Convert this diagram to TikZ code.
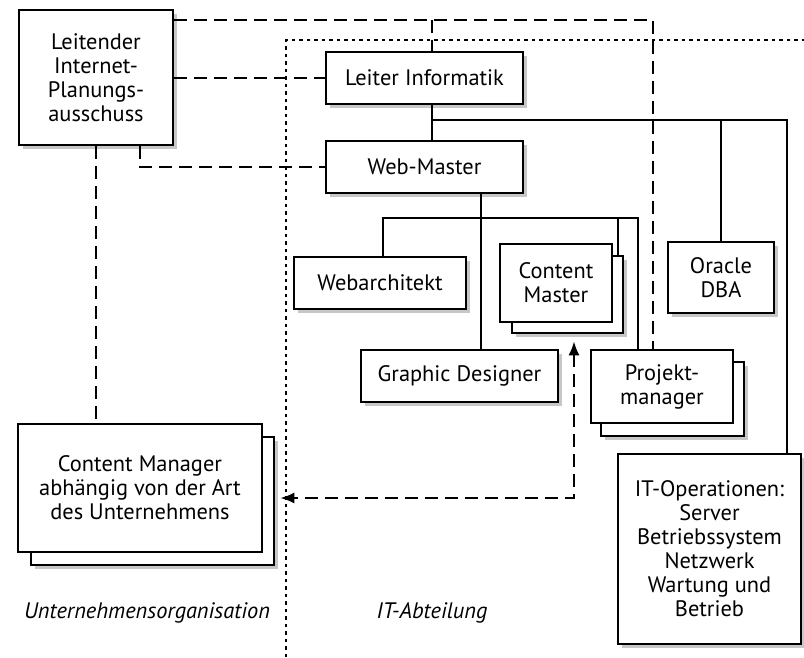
\documentclass[tikz,border=0pt]{standalone}
\usepackage{fontspec}
\setmainfont{PT Sans}
\usetikzlibrary{arrows.meta, positioning, shadows}

\begin{document}
\begin{tikzpicture}[
    x=1pt, y=-1pt,
    every node/.style={font=\fontsize{22.4}{24}\selectfont},
    role/.style={rectangle, draw, line width=2.6pt, fill=white, align=center,
                 inner sep=0pt,
                 drop shadow={shadow xshift=4pt, shadow yshift=-4pt,
                              opacity=1, fill=black!22}},
    rolefront/.style={rectangle, draw, line width=2.6pt, fill=white,
                      align=center, inner sep=0pt},
    orgline/.style={line width=2.1pt},
    advline/.style={line width=2.1pt, dash pattern=on 13pt off 7pt},
    boundary/.style={line width=2.1pt, dash pattern=on 3.5pt off 4pt},
    arr/.style={advline, {Latex[length=14pt,width=11pt]}-{Latex[length=14pt,width=11pt]}},
    area/.style={font=\fontsize{22.4}{24}\selectfont\itshape},
]
  \useasboundingbox (0,0) rectangle (804,657);

  % area boundary of the IT department
  \draw[boundary] (286,657) -- (286,40) -- (804,40);

  \node[role, minimum width=154pt, minimum height=135pt] (leit) at (96,77.5)
       {Leitender\\Internet-\\Planungs-\\ausschuss};
  \node[role, minimum width=197pt, minimum height=52pt]  (info) at (424.5,78) {Leiter Informatik};
  \node[role, minimum width=197pt, minimum height=52pt]  (webm) at (424.5,167) {Web-Master};
  \node[role, minimum width=172pt, minimum height=52pt]  (arch) at (380,283) {Webarchitekt};
  \node[role, minimum width=111pt, minimum height=77pt]  (cmback) at (567.5,294.5) {};
  \node[rolefront, minimum width=112pt, minimum height=78pt] (cmaster) at (556,283) {Content\\Master};
  \node[role, minimum width=197pt, minimum height=52pt]  (graph) at (459.5,376) {Graphic Designer};
  \node[role, minimum width=143pt, minimum height=74pt]  (projback) at (672.5,399) {};
  \node[rolefront, minimum width=142pt, minimum height=73pt] (proj) at (662,386.5) {Projekt-\\manager};
  \node[role, minimum width=106pt, minimum height=71pt]  (oracle) at (721,277.5) {Oracle\\DBA};
  \node[role, minimum width=183pt, minimum height=190pt] (itops) at (709.5,549)
       {IT-Operationen:\\Server\\Betriebssystem\\Netzwerk\\Wartung und\\Betrieb};
  \node[role, minimum width=243pt, minimum height=128pt] (cmanback) at (152.5,501) {};
  \node[rolefront, minimum width=244pt, minimum height=128pt] (cman) at (140,488)
       {Content Manager\\abhängig von der Art\\des Unternehmens};

  \node[area] (orglabel) at (147,613) {Unternehmensorganisation};
  \node[area] (itlabel)  at (432,613) {IT-Abteilung};

  % reporting lines
  \coordinate (itbus)  at ([xshift=7.5pt,yshift=-15pt]info.south);
  \coordinate (webbus) at ([xshift=56.5pt,yshift=-24pt]webm.south);
  \draw[orgline] ([xshift=7.5pt]info.south) -- ([xshift=7.5pt]webm.north);
  \draw[orgline] ([xshift=7.5pt]info.south) -- (itbus) -| ([xshift=77.5pt]itops.north);
  \draw[orgline] (itbus -| oracle.north) -- (oracle.north);
  \draw[orgline] ([xshift=56.5pt]webm.south) -- (webbus |- graph.north);
  \draw[orgline] ([xshift=3pt]arch.north) |- ([xshift=-24pt]webbus -| proj.north)
                 -- ([xshift=-24pt]proj.north);
  \draw[orgline] ([xshift=50.5pt]webbus -| cmback.north) -- ([xshift=50.5pt]cmback.north);

  % advisory lines of the steering committee
  \coordinate (leitbus) at ([yshift=-11pt]leit.north east);
  \draw[advline] (leitbus) -| ([xshift=-9pt]proj.north);
  \draw[advline] ([xshift=7.5pt]leitbus -| info.north) -- ([xshift=7.5pt]info.north);
  \draw[advline] (leit.east |- info.west) -- (info.west);
  \draw[advline] ([xshift=44pt]leit.south) |- (webm.west);
  \draw[advline] (leit.south) -- (leit.south |- cman.north);
  \draw[arr] ([xshift=6.5pt,yshift=-7pt]cmback.south)
             |- ([xshift=5pt,yshift=3pt]cmanback.east);
\end{tikzpicture}
\end{document}
